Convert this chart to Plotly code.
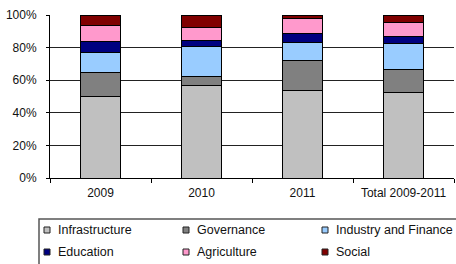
import plotly.graph_objects as go

categories = ["2009", "2010", "2011", "Total 2009-2011"]
infrastructure = [50.0, 57.0, 53.6, 52.6]
governance = [15.0, 5.0, 18.6, 13.9]
industry_finance = [12.3, 18.8, 11.1, 16.0]
education = [6.4, 3.7, 5.5, 4.4]
agriculture = [10.0, 8.1, 9.2, 8.6]
social = [6.3, 7.4, 2.0, 4.5]

series = [
    ("Infrastructure", infrastructure, "#C0C0C0"),
    ("Governance", governance, "#808080"),
    ("Industry and Finance", industry_finance, "#99CCFF"),
    ("Education", education, "#000080"),
    ("Agriculture", agriculture, "#FF99CC"),
    ("Social", social, "#800000"),
]

W, H = 456, 264
ML, MR, MT, MB = 50, 2, 15, 86
PW, PH = W - ML - MR, H - MT - MB
FONT = "Liberation Sans, Arial, sans-serif"


def px_x(p):
    return (p - ML) / PW


def px_y(p):
    return (H - MB - p) / PH


fig = go.Figure()
for name, vals, color in series:
    fig.add_trace(go.Bar(
        x=categories, y=vals, name=name,
        marker=dict(color=color, line=dict(color="#000000", width=1)),
        width=0.4,
    ))

# Manual legend (box, swatches, labels)
shapes = [dict(type="rect", xref="paper", yref="paper",
               x0=px_x(39), x1=px_x(470), y0=px_y(275), y1=px_y(219),
               line=dict(color="#555555", width=1.5), fillcolor="rgba(0,0,0,0)")]
annotations = []
col_x = [44, 183, 322]
row_y = [230, 252]
for i, (name, vals, color) in enumerate(series):
    cx = col_x[i % 3]
    cy = row_y[i // 3]
    shapes.append(dict(type="rect", xref="paper", yref="paper",
                       x0=px_x(cx), x1=px_x(cx + 6), y0=px_y(cy + 3), y1=px_y(cy - 3),
                       line=dict(color="#222222", width=1), fillcolor=color))
    annotations.append(dict(xref="paper", yref="paper", x=px_x(cx + 12), y=px_y(cy),
                            xanchor="left", yanchor="middle", text=name, showarrow=False,
                            font=dict(family=FONT, size=12.5, color="#111111")))

fig.update_layout(
    barmode="stack",
    width=W, height=H,
    margin=dict(l=ML, r=MR, t=MT, b=MB),
    paper_bgcolor="white", plot_bgcolor="white",
    font=dict(family=FONT, size=12, color="#111111"),
    showlegend=False,
    shapes=shapes,
    annotations=annotations,
    xaxis=dict(
        showline=True, linecolor="#000000", linewidth=1,
        ticks="outside", tickson="boundaries", ticklen=4, tickcolor="#000000",
        showgrid=False, ticklabelstandoff=4,
    ),
    yaxis=dict(
        range=[0, 100], dtick=20, ticksuffix="%",
        showline=True, linecolor="#000000", linewidth=1,
        ticks="outside", ticklen=3, tickcolor="#000000",
        showgrid=True, gridcolor="#222222", gridwidth=1,
        zeroline=False, ticklabelstandoff=7,
    ),
)

fig.write_html("out.html", config={"displayModeBar": False},
               post_script="document.body.style.margin='0';")
